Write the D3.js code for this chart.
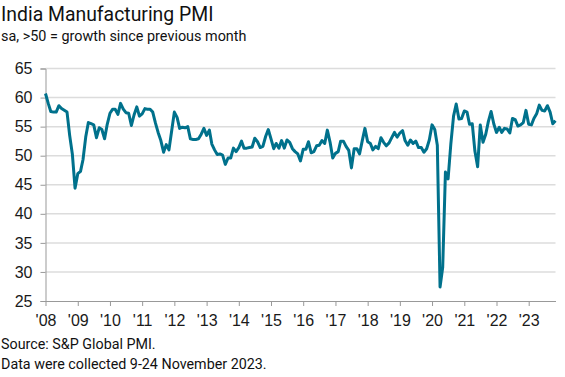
<!DOCTYPE html>
<html>
<head>
<meta charset="utf-8">
<script src="https://cdn.jsdelivr.net/npm/d3@7"></script>
<style>
  body { margin: 0; background: #fff; }
  text { font-family: "Liberation Sans", Arial, sans-serif; }
</style>
</head>
<body>
<div id="chart"></div>
<script>
// India Manufacturing PMI, monthly, Jan 2008 - Nov 2023
const startYear = 2008;
const pmi = [
  60.7, 59.0, 57.6, 57.5, 57.5, 58.6, 58.1, 57.8, 57.5, 53.5, 50.2, 44.4, // 2008
  46.9, 47.3, 49.3, 53.2, 55.7, 55.5, 55.3, 53.1, 54.8, 54.5, 52.9, 55.4, // 2009
  57.3, 58.0, 58.0, 57.1, 59.0, 58.0, 57.4, 57.3, 55.2, 57.0, 58.4, 56.8, // 2010
  57.2, 58.1, 58.0, 58.0, 57.5, 55.6, 54.0, 52.6, 50.6, 51.9, 51.0, 54.2, // 2011
  57.5, 56.6, 54.7, 54.9, 54.8, 55.0, 52.9, 52.8, 52.8, 52.9, 53.7, 54.7, // 2012
  53.5, 54.4, 52.0, 51.0, 50.2, 50.3, 50.1, 48.5, 49.6, 49.6, 51.3, 50.7, // 2013
  51.4, 52.5, 51.3, 51.3, 51.4, 51.5, 53.0, 52.4, 51.4, 51.6, 53.3, 54.5, // 2014
  52.9, 51.2, 52.1, 51.3, 52.6, 51.3, 52.7, 52.3, 51.2, 50.7, 50.3, 49.1, // 2015
  51.1, 51.1, 52.4, 50.5, 50.7, 51.7, 51.8, 52.6, 52.1, 54.4, 52.3, 49.6, // 2016
  50.4, 50.7, 52.5, 52.5, 51.6, 50.9, 47.9, 51.2, 51.2, 50.3, 52.6, 54.7, // 2017
  52.4, 52.1, 51.0, 51.6, 51.2, 53.1, 52.3, 51.7, 52.2, 53.1, 54.0, 53.2, // 2018
  53.9, 54.3, 52.6, 51.8, 52.7, 52.1, 52.5, 51.4, 51.4, 50.6, 51.2, 52.7, // 2019
  55.3, 54.5, 51.8, 27.4, 30.8, 47.2, 46.0, 52.0, 56.8, 58.9, 56.3, 56.4, // 2020
  57.7, 57.5, 55.4, 55.5, 50.8, 48.1, 55.3, 52.3, 53.7, 55.9, 57.6, 55.5, // 2021
  54.0, 54.9, 54.0, 54.7, 54.6, 53.9, 56.4, 56.2, 55.1, 55.3, 55.7, 57.8, // 2022
  55.4, 55.3, 56.4, 57.2, 58.7, 57.8, 57.7, 58.6, 57.5, 55.5, 56.0        // 2023
];
const yearLabels = ["'08","'09","'10","'11","'12","'13","'14","'15","'16","'17","'18","'19","'20","'21","'22","'23"];
const yTicks = [25, 30, 35, 40, 45, 50, 55, 60, 65];

const width = 565, height = 377;
const plotLeft = 45.5, plotRight = 555.5, plotTop = 68.5, plotBottom = 301;

const data = pmi.map((v, i) => ({date: new Date(startYear, i, 1), value: v}));

const svg = d3.select("#chart").append("svg")
  .attr("width", width)
  .attr("height", height);

const x = d3.scaleTime()
  .domain([data[0].date, data[data.length - 1].date])
  .range([plotLeft, plotRight]);

const y = d3.scaleLinear()
  .domain([25, 65])
  .range([plotBottom, plotTop]);

// title + subtitle
svg.append("text")
  .attr("x", 1).attr("y", 21)
  .attr("font-size", 19.4)
  .attr("fill", "#111")
  .style("font-family", "Roboto")
  .text("India Manufacturing PMI");

svg.append("text")
  .attr("x", 1).attr("y", 41)
  .attr("font-size", 14.4)
  .attr("fill", "#111")
  .style("font-family", "Roboto")
  .text("sa, >50 = growth since previous month");

// gridlines
svg.append("g")
  .selectAll("line")
  .data(yTicks.filter(d => d > 25))
  .join("line")
  .attr("x1", plotLeft).attr("x2", plotRight)
  .attr("y1", d => y(d)).attr("y2", d => y(d))
  .attr("stroke", "#dcdcdc")
  .attr("stroke-width", 1.5);

// y axis
const yAxis = svg.append("g")
  .attr("transform", `translate(${plotLeft},0)`)
  .call(d3.axisLeft(y).tickValues(yTicks).tickSize(5).tickPadding(8).tickFormat(d3.format("d")));
yAxis.select(".domain").attr("stroke", "#999");
yAxis.selectAll(".tick line").attr("stroke", "#999");
yAxis.selectAll(".tick text")
  .attr("font-size", 16)
  .attr("fill", "#1a1a1a")
  .style("font-family", "Liberation Sans");

// x axis
const xAxis = svg.append("g")
  .attr("transform", `translate(0,${plotBottom})`)
  .call(d3.axisBottom(x)
    .tickValues(yearLabels.map((d, i) => new Date(startYear + i, 0, 1)))
    .tickFormat((d, i) => yearLabels[i])
    .tickSizeInner(5).tickSizeOuter(0).tickPadding(9));
xAxis.select(".domain").attr("stroke", "#999");
xAxis.selectAll(".tick line").attr("stroke", "#999");
xAxis.selectAll(".tick text")
  .attr("font-size", 16)
  .attr("fill", "#1a1a1a")
  .style("font-family", "Liberation Sans");

// the line
svg.append("path")
  .datum(data)
  .attr("fill", "none")
  .attr("stroke", "#00718c")
  .attr("stroke-width", 3)
  .attr("stroke-linejoin", "round")
  .attr("d", d3.line().x(d => x(d.date)).y(d => y(d.value)));

// footer
svg.append("text")
  .attr("x", 1).attr("y", 349)
  .attr("font-size", 14.3)
  .attr("fill", "#111")
  .style("font-family", "Roboto")
  .text("Source: S&P Global PMI.");

svg.append("text")
  .attr("x", 1).attr("y", 369)
  .attr("font-size", 14.3)
  .attr("fill", "#111")
  .style("font-family", "Roboto")
  .text("Data were collected 9-24 November 2023.");
</script>
</body>
</html>
